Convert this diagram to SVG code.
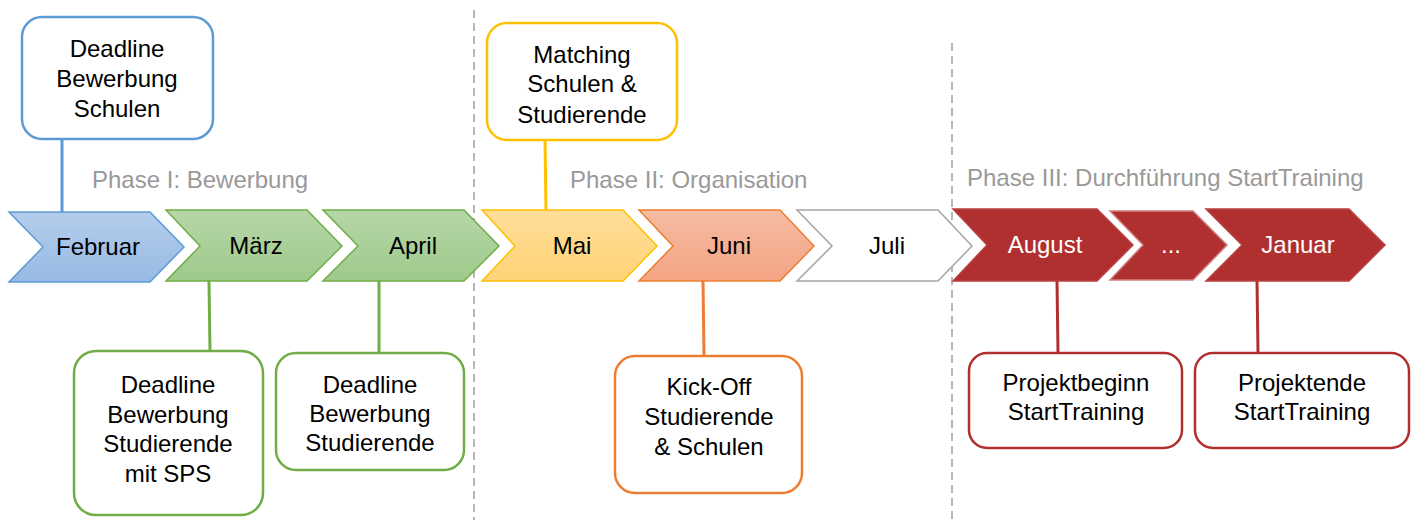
<svg xmlns="http://www.w3.org/2000/svg" width="1415" height="520" viewBox="0 0 1415 520">
<style>
text{font-family:"Liberation Sans",Arial,sans-serif;font-size:24px;text-anchor:middle}
.lbl{fill:#000}
.wt{fill:#fff}
.ph{fill:#999;text-anchor:start}
.box{fill:#fff;stroke-width:2.5}
.chev{stroke-width:1.5;stroke-linejoin:miter}
.con{stroke-width:3;fill:none}
.dash{stroke:#A6A6A6;stroke-width:1.6;stroke-dasharray:8 5;fill:none}
</style>
<defs>
<linearGradient id="gb" x1="0" y1="0" x2="0" y2="1"><stop offset="0" stop-color="#B4CDEB"/><stop offset="1" stop-color="#98BAE4"/></linearGradient>
<linearGradient id="gg" x1="0" y1="0" x2="0" y2="1"><stop offset="0" stop-color="#B6D6A8"/><stop offset="1" stop-color="#9FCA8B"/></linearGradient>
<linearGradient id="gy" x1="0" y1="0" x2="0" y2="1"><stop offset="0" stop-color="#FFDD99"/><stop offset="1" stop-color="#FFD477"/></linearGradient>
<linearGradient id="go" x1="0" y1="0" x2="0" y2="1"><stop offset="0" stop-color="#F5BBA2"/><stop offset="1" stop-color="#F4A483"/></linearGradient>
</defs>

<g id="dividers">
<line class="dash" x1="474" y1="10" x2="474" y2="520"/>
<line class="dash" x1="952" y1="43" x2="952" y2="520"/>
</g>

<g id="phases">
<text class="ph" x="92" y="188">Phase I: Bewerbung</text>
<text class="ph" x="570" y="188">Phase II: Organisation</text>
<text class="ph" x="967" y="186">Phase III: Durchführung StartTraining</text>
</g>

<g id="connectors">
<line class="con" stroke="#5B9BD5" x1="62" y1="139" x2="62" y2="212"/>
<line class="con" stroke="#70AD47" x1="209" y1="281" x2="210" y2="351"/>
<line class="con" stroke="#70AD47" x1="379" y1="281" x2="379" y2="353"/>
<line class="con" stroke="#FFC000" x1="545" y1="140" x2="546" y2="210"/>
<line class="con" stroke="#ED7D31" x1="703" y1="281" x2="704" y2="356"/>
<line class="con" stroke="#B03030" x1="1057" y1="281" x2="1058" y2="353"/>
<line class="con" stroke="#B03030" x1="1257" y1="281" x2="1258" y2="353"/>
</g>

<g id="m-februar">
<polygon class="chev" fill="url(#gb)" stroke="#5B9BD5" points="9,212 150,212 184,247 150,282 9,282 43,247"/>
<text class="lbl" x="98" y="255">Februar</text>
</g>
<g id="m-maerz">
<polygon class="chev" fill="url(#gg)" stroke="#70AD47" points="166,210 307,210 342,246 307,281 166,281 200,246"/>
<text class="lbl" x="256" y="254">März</text>
</g>
<g id="m-april">
<polygon class="chev" fill="url(#gg)" stroke="#70AD47" points="323,210 464,210 499,246 464,281 323,281 358,246"/>
<text class="lbl" x="413" y="254">April</text>
</g>
<g id="m-mai">
<polygon class="chev" fill="url(#gy)" stroke="#FFC000" points="482,210 623,210 657,246 623,281 482,281 515,246"/>
<text class="lbl" x="572" y="254">Mai</text>
</g>
<g id="m-juni">
<polygon class="chev" fill="url(#go)" stroke="#ED7D31" points="639,210 780,210 814,246 780,281 639,281 673,246"/>
<text class="lbl" x="729" y="254">Juni</text>
</g>
<g id="m-juli">
<polygon class="chev" fill="#fff" stroke="#A5A5A5" stroke-width="2.5" points="797,210 938,210 972,246 938,281 797,281 832,246"/>
<text class="lbl" x="887" y="254">Juli</text>
</g>
<g id="m-august">
<polygon class="chev" fill="#B02F2F" stroke="#B84040" points="953,209 1097,209 1133,245 1097,281 953,281 987,245"/>
<text class="wt" x="1045" y="253">August</text>
</g>
<g id="m-dots">
<polygon class="chev" fill="#B02F2F" stroke="#D08080" points="1110,211 1193,211 1227,245 1193,280 1110,280 1143,245"/>
<text class="wt" x="1171" y="253">...</text>
</g>
<g id="m-januar">
<polygon class="chev" fill="#B02F2F" stroke="#B84040" points="1206,209 1349,209 1385,245 1349,281 1206,281 1242,245"/>
<text class="wt" x="1298" y="253">Januar</text>
</g>

<g id="n-schulen">
<rect class="box" stroke="#5B9BD5" x="22" y="17" width="191" height="122" rx="20"/>
<text class="lbl" x="117" y="57">Deadline</text>
<text class="lbl" x="117" y="87">Bewerbung</text>
<text class="lbl" x="117" y="117">Schulen</text>
</g>
<g id="n-sps">
<rect class="box" stroke="#70AD47" x="74" y="351" width="189" height="164" rx="22"/>
<text class="lbl" x="168" y="393">Deadline</text>
<text class="lbl" x="168" y="423">Bewerbung</text>
<text class="lbl" x="168" y="452">Studierende</text>
<text class="lbl" x="168" y="482">mit SPS</text>
</g>
<g id="n-studierende">
<rect class="box" stroke="#70AD47" x="276" y="353" width="188" height="117" rx="20"/>
<text class="lbl" x="370" y="393">Deadline</text>
<text class="lbl" x="370" y="422">Bewerbung</text>
<text class="lbl" x="370" y="451">Studierende</text>
</g>
<g id="n-matching">
<rect class="box" stroke="#FFC000" x="487" y="23" width="190" height="117" rx="20"/>
<text class="lbl" x="582" y="63">Matching</text>
<text class="lbl" x="582" y="92">Schulen &amp;</text>
<text class="lbl" x="582" y="123">Studierende</text>
</g>
<g id="n-kickoff">
<rect class="box" stroke="#ED7D31" x="615" y="356" width="187" height="137" rx="20"/>
<text class="lbl" x="709" y="395">Kick-Off</text>
<text class="lbl" x="709" y="425">Studierende</text>
<text class="lbl" x="709" y="455">&amp; Schulen</text>
</g>
<g id="n-beginn">
<rect class="box" stroke="#B03030" x="969" y="353" width="213" height="95" rx="18"/>
<text class="lbl" x="1076" y="391">Projektbeginn</text>
<text class="lbl" x="1076" y="420">StartTraining</text>
</g>
<g id="n-ende">
<rect class="box" stroke="#B03030" x="1195" y="353" width="214" height="95" rx="18"/>
<text class="lbl" x="1302" y="391">Projektende</text>
<text class="lbl" x="1302" y="420">StartTraining</text>
</g>
</svg>
